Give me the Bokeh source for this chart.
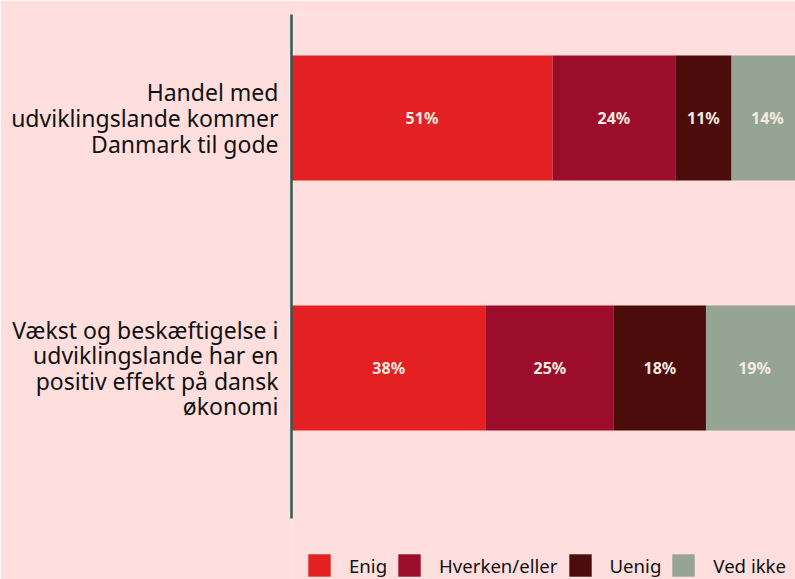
from bokeh.plotting import figure
from bokeh.models import Range1d, FixedTicker, Legend, LegendItem, ColumnDataSource, LabelSet
from bokeh.core.properties import value
from bokeh.embed import file_html
from bokeh.resources import INLINE

categories = [
    "Handel med\nudviklingslande kommer\nDanmark til gode",
    "Vækst og beskæftigelse i\nudviklingslande har en\npositiv effekt på dansk\nøkonomi",
]
series_names = ["Enig", "Hverken/eller", "Uenig", "Ved ikke"]
enig = [51, 38]
hverken = [24, 25]
uenig = [11, 18]
ved_ikke = [14, 19]
colors = ["#E32122", "#9C0D2C", "#4B0C0B", "#96A494"]

BG = "#FFDEDE"

p = figure(width=795, height=579, output_backend="svg", toolbar_location=None,
           x_range=Range1d(0, 98.5), y_range=Range1d(1.846, -0.414),
           min_border_left=291, min_border_right=0, min_border_top=14, min_border_bottom=0)
p.background_fill_color = BG
p.border_fill_color = BG
p.outline_line_color = None
p.xgrid.visible = False
p.ygrid.visible = False
p.xaxis.visible = False

ys = list(range(len(categories)))
series = [enig, hverken, uenig, ved_ikke]
left = [0.0] * len(categories)
items = []
for name, vals, col in zip(series_names, series, colors):
    right = [l + v for l, v in zip(left, vals)]
    src = ColumnDataSource(dict(y=ys, left=left, right=right,
                                mid=[(l + r) / 2 for l, r in zip(left, right)],
                                lab=[f"{v}%" for v in vals]))
    r = p.hbar(y="y", left="left", right="right", height=0.5, source=src,
               fill_color=col, line_color=None)
    items.append(LegendItem(label=name, renderers=[r]))
    lbl = LabelSet(x="mid", y="y", text="lab", source=src, text_align="center",
                   text_baseline="middle", text_color="#F2EBE0",
                   text_font=value("Noto Sans"),
                   text_font_style="bold", text_font_size="16px")
    p.add_layout(lbl)
    left = right

ax = p.yaxis[0]
ax.ticker = FixedTicker(ticks=ys)
ax.bounds = (-0.414, 1.602)
ax.major_label_overrides = {i: c for i, c in enumerate(categories)}
ax.major_tick_line_color = None
ax.minor_tick_line_color = None
ax.major_tick_out = 0
ax.major_tick_in = 0
ax.major_label_standoff = 13
ax.major_label_text_font = "Noto Sans"
ax.major_label_text_font_size = "23px"
ax.major_label_text_line_height = 0.8
ax.major_label_text_color = "#111111"
ax.major_label_text_align = "right"
ax.axis_line_color = "#2E5A50"
ax.axis_line_width = 2.5

legend = Legend(items=items, orientation="horizontal", location=(14, 0),
                glyph_width=28, glyph_height=28, label_standoff=16, spacing=8,
                padding=0, margin=0, border_line_color=None, background_fill_alpha=0,
                label_text_font="Noto Sans", label_text_font_size="18.6px",
                label_text_color="#111111")
p.add_layout(legend, "center")

open("out.html", "w").write(file_html(p, INLINE))
